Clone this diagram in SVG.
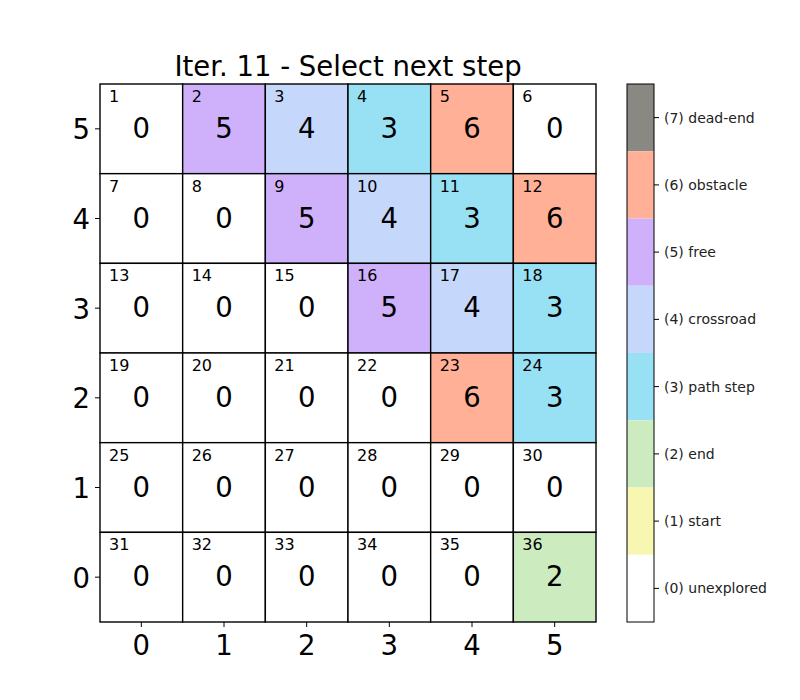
<svg xmlns="http://www.w3.org/2000/svg" width="800" height="700" viewBox="0 0 800 700">
<style>
text{font-family:"DejaVu Sans","Liberation Sans",sans-serif;fill:#000}
.cell{stroke:#000;stroke-width:1.4}
.c0{fill:#ffffff}.c1{fill:#f7f7b2}.c2{fill:#ccecc0}.c3{fill:#98e1f5}.c4{fill:#c5d8fb}.c5{fill:#cfb0fb}.c6{fill:#ffb096}.c7{fill:#8a8883}
.val{font-size:27.5px;text-anchor:middle}
.idx{font-size:16px}
.tick{stroke:#000;stroke-width:1}
.tl{font-size:27.5px}
.cb{font-size:14px;fill:#222}
</style>
<rect width="800" height="700" fill="#fff"/>
<text x="348" y="76" font-size="27.5" text-anchor="middle">Iter. 11 - Select next step</text>
<g id="grid">
<g id="n1"><rect class="cell c0" x="100" y="84" width="82.667" height="89.667"/><text class="idx" x="109" y="101.8">1</text><text class="val" x="141.33" y="137.8">0</text></g>
<g id="n2"><rect class="cell c5" x="182.667" y="84" width="82.667" height="89.667"/><text class="idx" x="191.67" y="101.8">2</text><text class="val" x="224" y="137.8">5</text></g>
<g id="n3"><rect class="cell c4" x="265.333" y="84" width="82.667" height="89.667"/><text class="idx" x="274.33" y="101.8">3</text><text class="val" x="306.67" y="137.8">4</text></g>
<g id="n4"><rect class="cell c3" x="348" y="84" width="82.667" height="89.667"/><text class="idx" x="357" y="101.8">4</text><text class="val" x="389.33" y="137.8">3</text></g>
<g id="n5"><rect class="cell c6" x="430.667" y="84" width="82.667" height="89.667"/><text class="idx" x="439.67" y="101.8">5</text><text class="val" x="472" y="137.8">6</text></g>
<g id="n6"><rect class="cell c0" x="513.333" y="84" width="82.667" height="89.667"/><text class="idx" x="522.33" y="101.8">6</text><text class="val" x="554.67" y="137.8">0</text></g>

<g id="n7"><rect class="cell c0" x="100" y="173.667" width="82.667" height="89.667"/><text class="idx" x="109" y="191.5">7</text><text class="val" x="141.33" y="227.5">0</text></g>
<g id="n8"><rect class="cell c0" x="182.667" y="173.667" width="82.667" height="89.667"/><text class="idx" x="191.67" y="191.5">8</text><text class="val" x="224" y="227.5">0</text></g>
<g id="n9"><rect class="cell c5" x="265.333" y="173.667" width="82.667" height="89.667"/><text class="idx" x="274.33" y="191.5">9</text><text class="val" x="306.67" y="227.5">5</text></g>
<g id="n10"><rect class="cell c4" x="348" y="173.667" width="82.667" height="89.667"/><text class="idx" x="357" y="191.5">10</text><text class="val" x="389.33" y="227.5">4</text></g>
<g id="n11"><rect class="cell c3" x="430.667" y="173.667" width="82.667" height="89.667"/><text class="idx" x="439.67" y="191.5">11</text><text class="val" x="472" y="227.5">3</text></g>
<g id="n12"><rect class="cell c6" x="513.333" y="173.667" width="82.667" height="89.667"/><text class="idx" x="522.33" y="191.5">12</text><text class="val" x="554.67" y="227.5">6</text></g>

<g id="n13"><rect class="cell c0" x="100" y="263.333" width="82.667" height="89.667"/><text class="idx" x="109" y="281.1">13</text><text class="val" x="141.33" y="317.2">0</text></g>
<g id="n14"><rect class="cell c0" x="182.667" y="263.333" width="82.667" height="89.667"/><text class="idx" x="191.67" y="281.1">14</text><text class="val" x="224" y="317.2">0</text></g>
<g id="n15"><rect class="cell c0" x="265.333" y="263.333" width="82.667" height="89.667"/><text class="idx" x="274.33" y="281.1">15</text><text class="val" x="306.67" y="317.2">0</text></g>
<g id="n16"><rect class="cell c5" x="348" y="263.333" width="82.667" height="89.667"/><text class="idx" x="357" y="281.1">16</text><text class="val" x="389.33" y="317.2">5</text></g>
<g id="n17"><rect class="cell c4" x="430.667" y="263.333" width="82.667" height="89.667"/><text class="idx" x="439.67" y="281.1">17</text><text class="val" x="472" y="317.2">4</text></g>
<g id="n18"><rect class="cell c3" x="513.333" y="263.333" width="82.667" height="89.667"/><text class="idx" x="522.33" y="281.1">18</text><text class="val" x="554.67" y="317.2">3</text></g>

<g id="n19"><rect class="cell c0" x="100" y="353" width="82.667" height="89.667"/><text class="idx" x="109" y="370.8">19</text><text class="val" x="141.33" y="406.8">0</text></g>
<g id="n20"><rect class="cell c0" x="182.667" y="353" width="82.667" height="89.667"/><text class="idx" x="191.67" y="370.8">20</text><text class="val" x="224" y="406.8">0</text></g>
<g id="n21"><rect class="cell c0" x="265.333" y="353" width="82.667" height="89.667"/><text class="idx" x="274.33" y="370.8">21</text><text class="val" x="306.67" y="406.8">0</text></g>
<g id="n22"><rect class="cell c0" x="348" y="353" width="82.667" height="89.667"/><text class="idx" x="357" y="370.8">22</text><text class="val" x="389.33" y="406.8">0</text></g>
<g id="n23"><rect class="cell c6" x="430.667" y="353" width="82.667" height="89.667"/><text class="idx" x="439.67" y="370.8">23</text><text class="val" x="472" y="406.8">6</text></g>
<g id="n24"><rect class="cell c3" x="513.333" y="353" width="82.667" height="89.667"/><text class="idx" x="522.33" y="370.8">24</text><text class="val" x="554.67" y="406.8">3</text></g>

<g id="n25"><rect class="cell c0" x="100" y="442.667" width="82.667" height="89.667"/><text class="idx" x="109" y="460.5">25</text><text class="val" x="141.33" y="496.5">0</text></g>
<g id="n26"><rect class="cell c0" x="182.667" y="442.667" width="82.667" height="89.667"/><text class="idx" x="191.67" y="460.5">26</text><text class="val" x="224" y="496.5">0</text></g>
<g id="n27"><rect class="cell c0" x="265.333" y="442.667" width="82.667" height="89.667"/><text class="idx" x="274.33" y="460.5">27</text><text class="val" x="306.67" y="496.5">0</text></g>
<g id="n28"><rect class="cell c0" x="348" y="442.667" width="82.667" height="89.667"/><text class="idx" x="357" y="460.5">28</text><text class="val" x="389.33" y="496.5">0</text></g>
<g id="n29"><rect class="cell c0" x="430.667" y="442.667" width="82.667" height="89.667"/><text class="idx" x="439.67" y="460.5">29</text><text class="val" x="472" y="496.5">0</text></g>
<g id="n30"><rect class="cell c0" x="513.333" y="442.667" width="82.667" height="89.667"/><text class="idx" x="522.33" y="460.5">30</text><text class="val" x="554.67" y="496.5">0</text></g>

<g id="n31"><rect class="cell c0" x="100" y="532.333" width="82.667" height="89.667"/><text class="idx" x="109" y="550.2">31</text><text class="val" x="141.33" y="586.2">0</text></g>
<g id="n32"><rect class="cell c0" x="182.667" y="532.333" width="82.667" height="89.667"/><text class="idx" x="191.67" y="550.2">32</text><text class="val" x="224" y="586.2">0</text></g>
<g id="n33"><rect class="cell c0" x="265.333" y="532.333" width="82.667" height="89.667"/><text class="idx" x="274.33" y="550.2">33</text><text class="val" x="306.67" y="586.2">0</text></g>
<g id="n34"><rect class="cell c0" x="348" y="532.333" width="82.667" height="89.667"/><text class="idx" x="357" y="550.2">34</text><text class="val" x="389.33" y="586.2">0</text></g>
<g id="n35"><rect class="cell c0" x="430.667" y="532.333" width="82.667" height="89.667"/><text class="idx" x="439.67" y="550.2">35</text><text class="val" x="472" y="586.2">0</text></g>
<g id="n36"><rect class="cell c2" x="513.333" y="532.333" width="82.667" height="89.667"/><text class="idx" x="522.33" y="550.2">36</text><text class="val" x="554.67" y="586.2">2</text></g>
</g>
<g id="axes">
<path class="tick" d="M95,128.83H100M95,218.5H100M95,308.17H100M95,397.83H100M95,487.5H100M95,577.17H100"/>
<path class="tick" d="M141.33,622V627M224,622V627M306.67,622V627M389.33,622V627M472,622V627M554.67,622V627"/>
<g class="tl" text-anchor="end">
<text x="90" y="139.3">5</text><text x="90" y="229">4</text><text x="90" y="318.7">3</text><text x="90" y="408.3">2</text><text x="90" y="498">1</text><text x="90" y="587.7">0</text>
</g>
<g class="tl" text-anchor="middle">
<text x="141.33" y="655">0</text><text x="224" y="655">1</text><text x="306.67" y="655">2</text><text x="389.33" y="655">3</text><text x="472" y="655">4</text><text x="554.67" y="655">5</text>
</g>
</g>
<g id="colorbar">
<rect class="c7" x="627" y="84" width="27" height="67.25"/>
<rect class="c6" x="627" y="151.25" width="27" height="67.25"/>
<rect class="c5" x="627" y="218.5" width="27" height="67.25"/>
<rect class="c4" x="627" y="285.75" width="27" height="67.25"/>
<rect class="c3" x="627" y="353" width="27" height="67.25"/>
<rect class="c2" x="627" y="420.25" width="27" height="67.25"/>
<rect class="c1" x="627" y="487.5" width="27" height="67.25"/>
<rect class="c0" x="627" y="554.75" width="27" height="67.25"/>
<rect x="627" y="84" width="27" height="538" fill="none" stroke="#000" stroke-width="1"/>
<path class="tick" d="M654,117.6H659M654,184.9H659M654,252.1H659M654,319.4H659M654,386.6H659M654,453.9H659M654,521.1H659M654,588.4H659"/>
<text class="cb" x="664" y="122.6">(7) dead-end</text>
<text class="cb" x="664" y="189.9">(6) obstacle</text>
<text class="cb" x="664" y="257.1">(5) free</text>
<text class="cb" x="664" y="324.4">(4) crossroad</text>
<text class="cb" x="664" y="391.6">(3) path step</text>
<text class="cb" x="664" y="458.9">(2) end</text>
<text class="cb" x="664" y="526.1">(1) start</text>
<text class="cb" x="664" y="593.4">(0) unexplored</text>
</g>
</svg>
